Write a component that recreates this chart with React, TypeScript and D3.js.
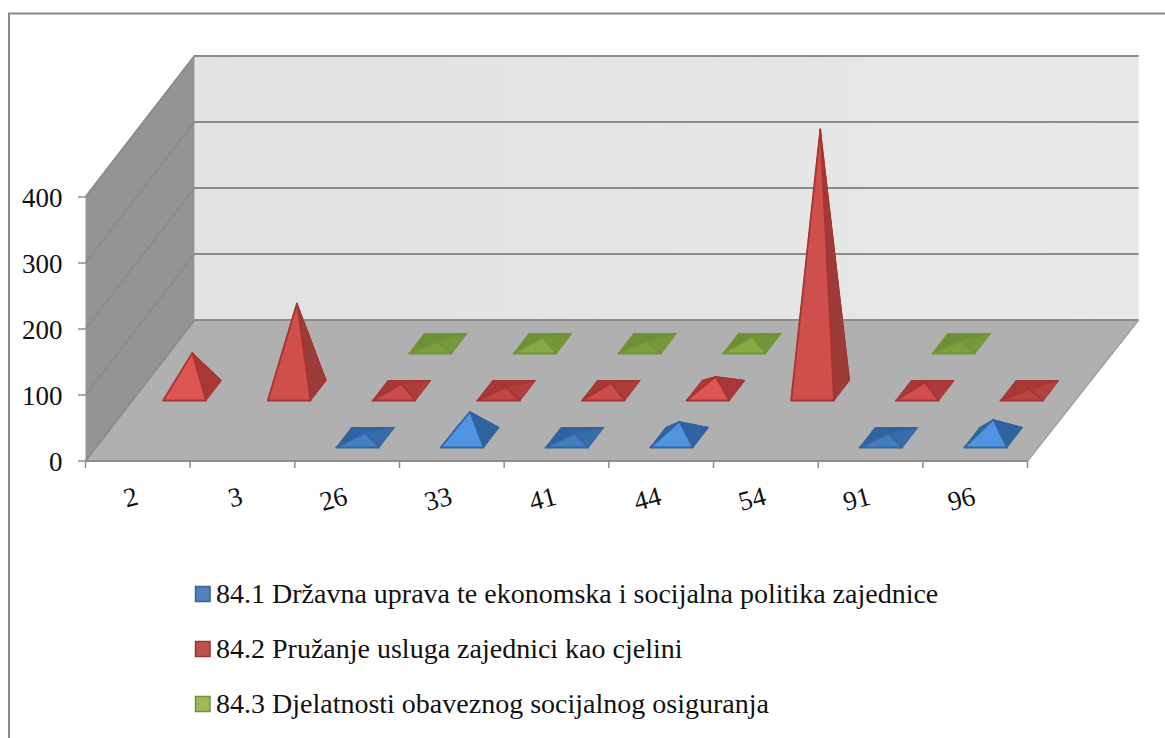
import React from "react";
import * as d3 from "d3";

const categories = ["2", "3", "26", "33", "41", "44", "54", "91", "96"];
const seriesNames = [
  "84.1 Državna uprava te ekonomska i socijalna politika zajednice",
  "84.2 Pružanje usluga zajednici kao cjelini",
  "84.3 Djelatnosti obaveznog socijalnog osiguranja",
];
const blueValues = [null, null, 7, 39, 6, 24, null, 6, 27];
const redValues = [57, 132, 10, 5, 11, 21, 396, 12, 2];
const greenValues = [null, null, 2, 9, 3, 10, null, 4, null];
const allSeries = [blueValues, redValues, greenValues];
const yTicks = [0, 100, 200, 300, 400];
const palette = [
  { light: "#4f95e2", mid: "#3a72b0", dark: "#2f62a0", edge: "#34669f", swatch: "#4f81bd", swatchEdge: "#3a6496" },
  { light: "#de5553", mid: "#b34240", dark: "#a63836", edge: "#a83432", swatch: "#c0504d", swatchEdge: "#943634" },
  { light: "#94bb4a", mid: "#789a3c", dark: "#6d8f34", edge: "#749438", swatch: "#9bbb59", swatchEdge: "#76923c" },
];

const W = 1165, H = 738;
const xU = d3.scaleLinear().domain([0, 9]).range([85.5, 1027.5]);
const dX = d3.scaleLinear().domain([0, 1]).range([0, 109]);
const dY = d3.scaleLinear().domain([0, 1]).range([0, 141]);
const yV = d3.scaleLinear().domain([0, 400]).range([0, 264]);
const FLOOR = 461;

type P = [number, number];
const proj = (u: number, d: number, v: number): P => [xU(u) + dX(d), FLOOR - dY(d) - yV(v)];
const poly = (pts: P[]) => d3.line()(pts)! + "Z";

const Pyramid = ({ s, i, v }: { s: number; i: number; v: number }) => {
  const u0 = i + 0.295, u1 = i + 0.705;
  const dc = (s + 0.5) / 3, d0 = dc - 0.071, d1 = dc + 0.071;
  const fl = proj(u0, d0, 0), fr = proj(u1, d0, 0), br = proj(u1, d1, 0), bl = proj(u0, d1, 0);
  const apex = proj(i + 0.5, dc, v);
  const c = palette[s];
  const t = Math.min(1, v / 18);
  const front = d3.interpolateRgb(c.mid, c.light)(t);
  const right = d3.interpolateRgb(c.mid, c.dark)(t);
  const tall = v > 100;
  const faces: [P[], string][] = [
    [[bl, br, apex], c.dark],
    [[fl, bl, apex], c.dark],
    [[fr, br, apex], tall ? "#9c3a38" : right],
    [[fl, fr, apex], tall ? "#cf4f4d" : front],
  ];
  return (
    <g strokeLinejoin="round">
      {faces.map(([pts, fill], k) => (
        <path key={k} d={poly(pts)} fill={fill} stroke={c.edge} strokeWidth={k === 3 ? 1.8 : 1} />
      ))}
    </g>
  );
};

export default function App() {
  const gridColor = "#8c8c8c";
  const backRight = proj(9.02, 1, 0);
  return (
    <svg width={W} height={H} style={{ position: "absolute", left: 0, top: 0, background: "#fff" }}
      fontFamily="'Liberation Serif', serif">
      <defs>
        <linearGradient id="wall" x1="0" x2="1" y1="0" y2="0">
          <stop offset="0" stopColor="#e2e2e2" />
          <stop offset="1" stopColor="#e8e8e8" />
        </linearGradient>
        <filter id="soft" x="-5%" y="-5%" width="110%" height="110%">
          <feGaussianBlur stdDeviation="0.45" />
        </filter>
      </defs>
      <path d={`M${9},${H}V${13.5}H${W}`} fill="none" stroke="#8a8a8a" strokeWidth={2} />
      <path d={poly([proj(0, 1, 0), proj(9.02, 1, 0), proj(9.02, 1, 400), proj(0, 1, 400)])} fill="url(#wall)" />
      <path d={poly([proj(0, 0, 0), proj(0, 1, 0), proj(0, 1, 400), proj(0, 0, 400)])} fill="#949494" />
      <path d={poly([proj(0, 0, 0), proj(9, 0, 0), backRight, proj(0, 1, 0)])} fill="#b0b0b0" />
      {yTicks.map((t) => (
        <g key={t} fill="none">
          <path d={d3.line()([proj(0, 0, t), proj(0, 1, t), proj(9.02, 1, t)])!} stroke={gridColor} strokeWidth={2} />
          <line x1={78} x2={85.5} y1={FLOOR - yV(t)} y2={FLOOR - yV(t)} stroke={gridColor} strokeWidth={1.5} />
          <text x={62.5} y={FLOOR - yV(t)} dy="0.36em" textAnchor="end" fontSize={27} fill="#111" stroke="none">{t}</text>
        </g>
      ))}
      <path d={d3.line()([proj(0, 0, 400), proj(0, 1, 400)])!} stroke="#8c8c8c" strokeWidth={1.5} fill="none" />
      <path d={d3.line()([proj(9, 0, 0), backRight])!} stroke="#a0a0a0" strokeWidth={1.5} fill="none" />
      <line x1={xU(0)} x2={xU(9)} y1={FLOOR} y2={FLOOR} stroke="#8c8c8c" strokeWidth={2} />
      {d3.range(10).map((i) => (
        <line key={i} x1={xU(i)} x2={xU(i)} y1={FLOOR} y2={FLOOR + 7} stroke="#8c8c8c" strokeWidth={1.5} />
      ))}
      {categories.map((c, i) => (
        <text key={c} transform={`translate(${xU(i + 0.5)},${498}) rotate(-15)`} textAnchor="end" dominantBaseline="middle"
          fontSize={27} fill="#111">{c}</text>
      ))}
      <g filter="url(#soft)">
        {[2, 1, 0].map((s) =>
          allSeries[s].map((v, i) => (v === null ? null : <Pyramid key={`${s}-${i}`} s={s} i={i} v={v} />))
        )}
      </g>
      {seriesNames.map((name, s) => {
        const base = 602.5 + s * 55;
        return (
          <g key={name}>
            <rect x={195.5} y={base - 16} width={14.5} height={15} fill={palette[s].swatch} stroke={palette[s].swatchEdge} strokeWidth={1.5} />
            <text x={216} y={base} fontSize={28} fill="#111">{name}</text>
          </g>
        );
      })}
    </svg>
  );
}
